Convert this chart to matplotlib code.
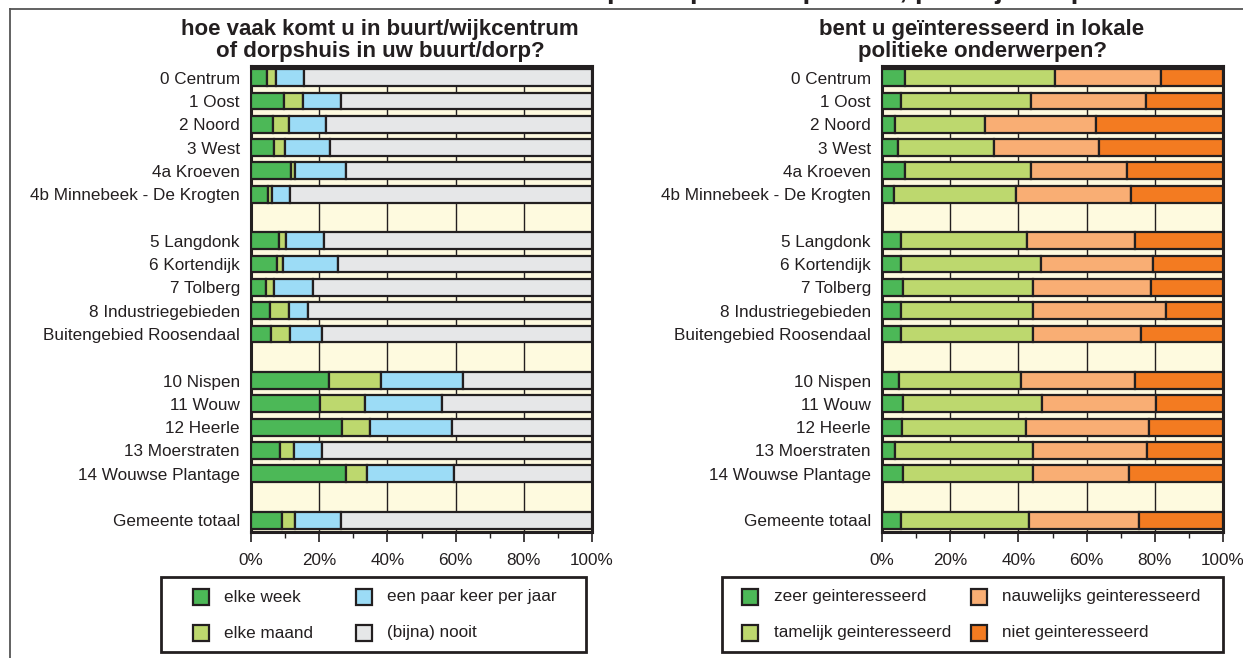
import numpy as np
import matplotlib
matplotlib.use("Agg")
import matplotlib.pyplot as plt
from matplotlib.patches import Rectangle
from matplotlib.lines import Line2D

plt.rcParams['font.family'] = ['Liberation Sans', 'DejaVu Sans']

W, H = 1243, 658

wijken = ["0 Centrum", "1 Oost", "2 Noord", "3 West", "4a Kroeven",
          "4b Minnebeek - De Krogten", "5 Langdonk", "6 Kortendijk", "7 Tolberg",
          "8 Industriegebieden", "Buitengebied Roosendaal", "10 Nispen", "11 Wouw",
          "12 Heerle", "13 Moerstraten", "14 Wouwse Plantage", "Gemeente totaal"]
groepen = [6, 5, 5, 1]  # blokken, met een lege rij ertussen

# hoe vaak komt u in buurt/wijkcentrum (%)
elke_week  = [4.6, 9.7, 6.4, 6.6, 11.8, 5.0, 8.1, 7.5, 4.3, 5.5, 5.8, 22.9, 20.1, 26.7, 8.5, 28.0, 9.0]
elke_maand = [2.8, 5.5, 4.7, 3.3, 1.0, 1.3, 2.3, 1.8, 2.3, 5.6, 5.7, 15.2, 13.3, 8.1, 4.0, 6.1, 4.0]
paar_keer  = [8.0, 11.3, 10.8, 13.2, 15.2, 5.2, 11.1, 16.2, 11.6, 5.5, 9.4, 24.0, 22.7, 24.2, 8.4, 25.4, 13.3]
nooit      = [84.6, 73.5, 78.1, 76.9, 72.0, 88.5, 78.5, 74.5, 81.8, 83.4, 79.1, 37.9, 43.9, 41.0, 79.1, 40.5, 73.7]

# geinteresseerd in lokale politiek (%)
zeer       = [6.6, 5.5, 3.8, 4.8, 6.6, 3.4, 5.6, 5.7, 6.1, 5.5, 5.5, 5.1, 6.3, 5.9, 3.7, 6.3, 5.7]
tamelijk   = [44.1, 38.1, 26.3, 28.0, 37.2, 35.8, 36.9, 40.8, 38.3, 38.9, 38.9, 35.8, 40.7, 36.2, 40.7, 38.1, 37.3]
nauwelijks = [31.0, 33.7, 32.8, 30.8, 28.1, 33.8, 31.7, 32.9, 34.6, 38.9, 31.5, 33.3, 33.4, 36.1, 33.2, 27.9, 32.5]
niet       = [18.3, 22.7, 37.1, 36.4, 28.1, 27.0, 25.8, 20.6, 21.0, 16.7, 24.1, 25.8, 19.6, 21.8, 22.4, 27.7, 24.5]

labels_links = ["elke week", "elke maand", "een paar keer per jaar", "(bijna) nooit"]
labels_rechts = ["zeer geinteresseerd", "tamelijk geinteresseerd",
                 "nauwelijks geinteresseerd", "niet geinteresseerd"]
kleuren_links = ["#4cb857", "#bdd86e", "#9cdcf6", "#e6e7e8"]
kleuren_rechts = ["#4cb857", "#bdd86e", "#f9ae74", "#f37b21"]

EDGE = "#231f20"
CREAM = "#fefadf"
FS = 12.3

# y-posities met lege rijen tussen de blokken
pos = []
y = 0
for g in groepen:
    for i in range(g):
        pos.append(y)
        y += 1
    y += 1
pos = np.array(pos)


def fx(px):
    return px / W


def fy(py):
    return 1 - py / H


fig = plt.figure(figsize=(W / 100, H / 100), dpi=100)


def panel(x0, x1, reeksen, kleuren):
    ax = fig.add_axes([fx(x0), fy(532), fx(x1) - fx(x0), fy(66) - fy(532)])
    ax.set_facecolor(CREAM)
    links = np.zeros(len(wijken))
    for vals, kl in zip(reeksen, kleuren):
        vals = np.array(vals)
        ax.barh(pos, vals, left=links, height=0.72, color=kl,
                edgecolor=EDGE, linewidth=1.6, zorder=3)
        links += vals
    ax.set_xlim(0, 100)
    ax.set_ylim(19.5, -0.5)
    ax.set_yticks(pos)
    ax.set_yticklabels(wijken, fontsize=FS, color=EDGE)
    ax.set_xticks(np.arange(0, 101, 20))
    ax.set_xticks(np.arange(10, 100, 20), minor=True)
    ax.set_xticklabels([f"{v}%" for v in range(0, 101, 20)], fontsize=FS, color=EDGE)
    ax.tick_params(axis='y', length=0, pad=8)
    ax.tick_params(axis='x', which='major', length=7, width=1.2, color=EDGE, pad=8)
    ax.tick_params(axis='x', which='minor', length=4, width=1.0, color=EDGE)
    ax.xaxis.grid(True, color=EDGE, linewidth=1.0, zorder=1)
    ax.set_axisbelow(True)
    for s in ax.spines.values():
        s.set_linewidth(2.2)
        s.set_color(EDGE)
    return ax


def legenda(bx0, bx1, pat_x, txt_x, labels, kleuren):
    fig.add_artist(Rectangle((fx(bx0), fy(652)), fx(bx1) - fx(bx0), fy(577) - fy(652),
                             transform=fig.transFigure, facecolor='white',
                             edgecolor=EDGE, linewidth=2.0))
    rijen = [597, 633]
    for k, (lab, kl) in enumerate(zip(labels, kleuren)):
        col, rij = k // 2, k % 2
        yc = rijen[rij]
        fig.add_artist(Rectangle((fx(pat_x[col]), fy(yc + 8)), 16 / W, 16 / H,
                                 transform=fig.transFigure, facecolor=kl,
                                 edgecolor=EDGE, linewidth=1.6))
        fig.text(fx(txt_x[col]), fy(yc), lab, fontsize=FS, color=EDGE,
                 ha='left', va='center')


panel(251, 592, [elke_week, elke_maand, paar_keer, nooit], kleuren_links)
panel(882, 1223, [zeer, tamelijk, nauwelijks, niet], kleuren_rechts)

fig.text(fx(380), fy(57), "hoe vaak komt u in buurt/wijkcentrum\nof dorpshuis in uw buurt/dorp?",
         ha='center', va='baseline', fontsize=16, fontweight='bold', color=EDGE,
         linespacing=1.05)
fig.text(fx(982), fy(57), "bent u geïnteresseerd in lokale\npolitieke onderwerpen?",
         ha='center', va='baseline', fontsize=16, fontweight='bold', color=EDGE,
         linespacing=1.05)

legenda(161, 586, [193, 356], [224, 387], labels_links, kleuren_links)
legenda(722, 1223, [742, 971], [774, 1002], labels_rechts, kleuren_rechts)

# afgesneden hoofdtitel en kaderlijnen
fig.text(fx(810), fy(-2), "Buurtparticipatie en politiek, per wijk/dorp",
         ha='center', va='baseline', fontsize=20, fontweight='bold', color=EDGE)
fig.add_artist(Line2D([fx(10), 1], [fy(9), fy(9)], transform=fig.transFigure,
                      color="#555555", linewidth=1.3))
fig.add_artist(Line2D([fx(10), fx(10)], [fy(9), 0], transform=fig.transFigure,
                      color="#555555", linewidth=1.3))

fig.savefig("out.png", dpi=100)
